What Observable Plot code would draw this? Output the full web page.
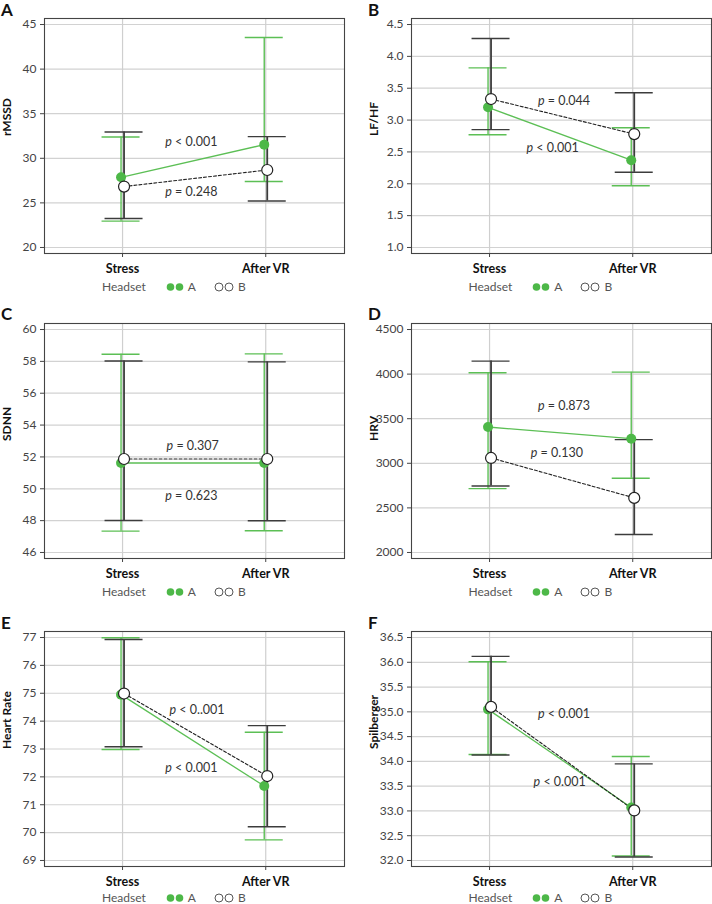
<!DOCTYPE html>
<html><head><meta charset="utf-8">
<script src="https://cdn.jsdelivr.net/npm/d3@7"></script>
<script src="https://cdn.jsdelivr.net/npm/@observablehq/plot@0.6"></script>
<style>
body{margin:0;background:#fff;font-family:Lato,sans-serif;}
#root{position:relative;width:712px;height:904px;overflow:hidden;background:#fff;}
.panel{position:absolute;}
.letter{position:absolute;font-weight:bold;font-size:17px;line-height:17px;color:#111;font-family:Lato,sans-serif;}
.legend{position:absolute;font-size:12px;line-height:12px;color:#555;display:flex;align-items:center;white-space:nowrap;font-family:Lato,sans-serif;}
.legend svg{display:block;}
</style></head><body><div id="root"></div>
<script>
// ---------- data ----------
const phases = ["Stress", "After VR"];
const headsets = ["A", "B"];
const legendTitle = "Headset";
const panelLetters = ["A", "B", "C", "D", "E", "F"];
const measures = ["rMSSD", "LF/HF", "SDNN", "HRV", "Heart Rate", "Spilberger"];
// [Stress, After VR]
const meanA = [[27.87, 31.53], [3.20, 2.37], [51.62, 51.62], [3407, 3276], [74.95, 71.67], [35.05, 33.07]];
const lowA  = [[22.95, 27.39], [2.77, 1.97], [47.34, 47.36], [2716, 2832], [72.98, 69.74], [34.14, 32.09]];
const highA = [[32.39, 43.54], [3.82, 2.88], [58.45, 58.47], [4015, 4022], [76.99, 73.60], [36.01, 34.10]];
const meanB = [[26.83, 28.69], [3.33, 2.78], [51.87, 51.87], [3060, 2612], [74.99, 72.03], [35.10, 33.01]];
const lowB  = [[23.25, 25.22], [2.85, 2.18], [48.01, 47.99], [2746, 2201], [73.08, 70.21], [34.13, 32.07]];
const highB = [[32.95, 32.43], [4.28, 3.43], [58.02, 57.97], [4146, 3265], [76.93, 73.84], [36.12, 33.95]];
const yTicks = [
  [20, 25, 30, 35, 40, 45],
  [1.0, 1.5, 2.0, 2.5, 3.0, 3.5, 4.0, 4.5],
  [46, 48, 50, 52, 54, 56, 58, 60],
  [2000, 2500, 3000, 3500, 4000, 4500],
  [69, 70, 71, 72, 73, 74, 75, 76, 77],
  [32.0, 32.5, 33.0, 33.5, 34.0, 34.5, 35.0, 35.5, 36.0, 36.5]
];
const yDecimals = [0, 1, 0, 0, 0, 1];
// p-value annotations: text, anchor (x between phases 0..1, y in data units)
const pTextA = ["p < 0.001", "p < 0.001", "p = 0.623", "p = 0.873", "p < 0.001", "p < 0.001"];
const pPosA  = [[0.48, 31.86], [0.44, 2.567], [0.48, 49.55], [0.52, 3638], [0.48, 72.33], [0.49, 33.59]];
const pTextB = ["p = 0.248", "p = 0.044", "p = 0.307", "p = 0.130", "p < 0..001", "p < 0.001"];
const pPosB  = [[0.48, 26.27], [0.52, 3.30], [0.49, 52.68], [0.47, 3115], [0.52, 74.41], [0.52, 34.95]];

// ---------- style / layout ----------
const GREEN = "#4db848", GREEN_LINE = "#5cbf55";
const colLeft = [0, 356], colMarginLeft = [44, 55], colMarginRight = [12, 1];
const rowFrameTop = [18.3, 322.7, 631];
const FRAME_H = 235, MT = 4, MB = 30, PW = 356;
const root = document.getElementById("root");

function panel(i) {
  const col = i % 2, row = Math.floor(i / 2);
  const ticks = yTicks[i];
  const t0 = ticks[0], t1 = ticks[ticks.length - 1];
  const pad = (t1 - t0) * 0.027;
  const xDomain = [-0.545, 1.55];
  const capHalf = 19 / ((PW - colMarginLeft[col] - colMarginRight[col]) / (xDomain[1] - xDomain[0]));
  const A = phases.map((p, k) => ({x: k, mean: meanA[i][k], low: lowA[i][k], high: highA[i][k]}));
  const B = phases.map((p, k) => ({x: k, mean: meanB[i][k], low: lowB[i][k], high: highB[i][k]}));
  const labels = [
    {x: pPosA[i][0], y: pPosA[i][1], t: pTextA[i]},
    {x: pPosB[i][0], y: pPosB[i][1], t: pTextB[i]}
  ];
  const fmt = d3.format("." + yDecimals[i] + "f");
  const dxA = -1.5, dxB = 1.5;
  const bars = (data, color, w, dx) => [
    Plot.ruleX(data, {x: "x", y1: "low", y2: "high", stroke: color, strokeWidth: w, dx}),
    Plot.ruleY(data, {y: "high", x1: d => d.x - capHalf, x2: d => d.x + capHalf, stroke: color, strokeWidth: 1.4, dx}),
    Plot.ruleY(data, {y: "low", x1: d => d.x - capHalf, x2: d => d.x + capHalf, stroke: color, strokeWidth: 1.4, dx})
  ];
  const svg = Plot.plot({
    width: PW,
    height: MT + FRAME_H + MB,
    marginTop: MT, marginBottom: MB,
    marginLeft: colMarginLeft[col], marginRight: colMarginRight[col],
    style: {fontFamily: "Lato, sans-serif", fontSize: "12px", color: "#444", background: "white", overflow: "visible"},
    x: {domain: xDomain, ticks: [0, 1], tickFormat: k => phases[k], tickSize: 4, tickPadding: 7, label: null},
    y: {domain: [t0 - pad, t1 + pad], ticks: ticks, tickFormat: fmt, tickSize: 4, tickPadding: 4, label: null},
    marks: [
      Plot.ruleY(ticks, {stroke: "#d2d2d2", strokeWidth: 1.2}),
      Plot.ruleX([0, 1], {stroke: "#cfcfcf", strokeWidth: 1.2}),
      ...bars(A, GREEN_LINE, 1.4, dxA),
      ...bars(B, "#3c3c3c", 1.8, dxB),
      Plot.line(A, {x: "x", y: "mean", stroke: GREEN_LINE, strokeWidth: 1.3, dx: dxA}),
      Plot.line(B, {x: "x", y: "mean", stroke: "#222", strokeWidth: 1.1, strokeDasharray: "3,2", dx: dxB}),
      Plot.dot(A, {x: "x", y: "mean", r: 5, fill: GREEN, dx: dxA}),
      Plot.dot(B, {x: "x", y: "mean", r: 5.5, fill: "white", stroke: "#222", strokeWidth: 1.2, dx: dxB}),
      Plot.text(labels, {x: "x", y: "y", text: "t", fill: "#333", fontSize: 12.5, className: "plab"}),
      Plot.text([measures[i]], {text: d => d, frameAnchor: "left", dx: -37.5, rotate: -90, fontWeight: "bold", fontSize: 12, fill: "#111"}),
      Plot.frame({stroke: "#444", strokeWidth: 1.1})
    ]
  });
  d3.select(svg).selectAll('[aria-label^="x-axis"] text').attr("font-weight", "bold").attr("font-size", 12.5).attr("fill", "#111");
  d3.select(svg).selectAll('[aria-label^="y-axis"] text').attr("fill", "#444");
  d3.select(svg).selectAll("g.plab text").each(function () {
    const s = this.textContent;
    if (s.startsWith("p ")) {
      this.textContent = "";
      d3.select(this).append("tspan").attr("font-style", "italic").text("p");
      d3.select(this).append("tspan").text(s.slice(1));
    }
  });
  const wrap = document.createElement("div");
  wrap.className = "panel";
  wrap.style.left = colLeft[col] + "px";
  wrap.style.top = (rowFrameTop[row] - MT) + "px";
  wrap.appendChild(svg);
  root.appendChild(wrap);

  const L = document.createElement("div");
  L.className = "letter";
  L.textContent = panelLetters[i];
  L.style.left = (colLeft[col] + (col ? 12 : 1)) + "px";
  L.style.top = Math.max(1, rowFrameTop[row] - 17.5) + "px";
  root.appendChild(L);

  const lg = document.createElement("div");
  lg.className = "legend";
  lg.style.left = (colLeft[col] + (col ? 112.5 : 102)) + "px";
  lg.style.top = Math.min(rowFrameTop[row] + FRAME_H + 28, 892) + "px";
  lg.innerHTML =
    `<span>${legendTitle}</span>` +
    `<svg width="20" height="10" style="margin-left:20px"><circle cx="4.5" cy="5" r="3.8" fill="${GREEN}"/><circle cx="13.5" cy="5" r="3.8" fill="${GREEN}"/></svg>` +
    `<span style="margin-left:2px">${headsets[0]}</span>` +
    `<svg width="22" height="10" style="margin-left:18px"><circle cx="5" cy="5" r="4" fill="white" stroke="#444" stroke-width="0.9"/><circle cx="15" cy="5" r="4" fill="white" stroke="#444" stroke-width="0.9"/></svg>` +
    `<span style="margin-left:2px">${headsets[1]}</span>`;
  root.appendChild(lg);
}
for (let i = 0; i < 6; i++) panel(i);
</script></body></html>
